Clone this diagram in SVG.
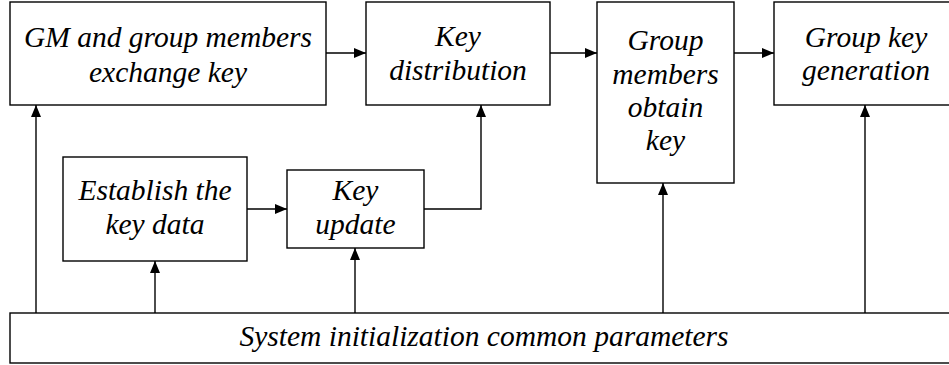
<svg xmlns="http://www.w3.org/2000/svg" width="949" height="365" viewBox="0 0 949 365">
  <style>
    .box { fill: #ffffff; stroke: #000000; stroke-width: 1.4; }
    .lbl { font-family: 'Liberation Serif', 'Times New Roman', serif; font-style: italic; font-size: 29.5px; fill: #000000; text-anchor: middle; }
    .wire { fill: none; stroke: #000000; stroke-width: 1.4; }
  </style>
  <defs>
    <marker id="arrow" markerUnits="userSpaceOnUse" markerWidth="12" markerHeight="10" refX="12" refY="5" orient="auto">
      <path d="M0,0 L12,5 L0,10 Z" fill="#000000"/>
    </marker>
  </defs>
  <rect width="949" height="365" fill="#ffffff"/>

  <g id="connectors">
    <path class="wire" d="M326,53 H366" marker-end="url(#arrow)"/>
    <path class="wire" d="M550,53 H597" marker-end="url(#arrow)"/>
    <path class="wire" d="M734,53 H774" marker-end="url(#arrow)"/>
    <path class="wire" d="M247,209 H287" marker-end="url(#arrow)"/>
    <path class="wire" d="M424,209 H481 V105" marker-end="url(#arrow)"/>
    <path class="wire" d="M36,313 V105" marker-end="url(#arrow)"/>
    <path class="wire" d="M155,313 V261" marker-end="url(#arrow)"/>
    <path class="wire" d="M355,313 V248" marker-end="url(#arrow)"/>
    <path class="wire" d="M663,313 V183" marker-end="url(#arrow)"/>
    <path class="wire" d="M865,313 V105" marker-end="url(#arrow)"/>
  </g>

  <g id="gm-exchange">
    <rect class="box" x="10" y="2" width="316" height="103"/>
    <text class="lbl" x="168" y="47">GM and group members</text>
    <text class="lbl" x="168" y="82">exchange key</text>
  </g>

  <g id="key-distribution">
    <rect class="box" x="366" y="2" width="184" height="103"/>
    <text class="lbl" x="458" y="46">Key</text>
    <text class="lbl" x="458" y="80">distribution</text>
  </g>

  <g id="members-obtain">
    <rect class="box" x="597" y="2" width="137" height="181"/>
    <text class="lbl" x="665.5" y="50">Group</text>
    <text class="lbl" x="665.5" y="84">members</text>
    <text class="lbl" x="665.5" y="117">obtain</text>
    <text class="lbl" x="665.5" y="150">key</text>
  </g>

  <g id="group-key-generation">
    <rect class="box" x="774" y="2" width="185" height="103"/>
    <text class="lbl" x="866" y="47">Group key</text>
    <text class="lbl" x="866" y="80">generation</text>
  </g>

  <g id="establish-key-data">
    <rect class="box" x="63" y="157" width="184" height="104"/>
    <text class="lbl" x="155" y="200">Establish the</text>
    <text class="lbl" x="155" y="234">key data</text>
  </g>

  <g id="key-update">
    <rect class="box" x="287" y="170" width="137" height="78"/>
    <text class="lbl" x="355.5" y="200">Key</text>
    <text class="lbl" x="355.5" y="234">update</text>
  </g>

  <g id="system-init">
    <rect class="box" x="10" y="313" width="949" height="50"/>
    <text class="lbl" x="484" y="346">System initialization common parameters</text>
  </g>
</svg>
